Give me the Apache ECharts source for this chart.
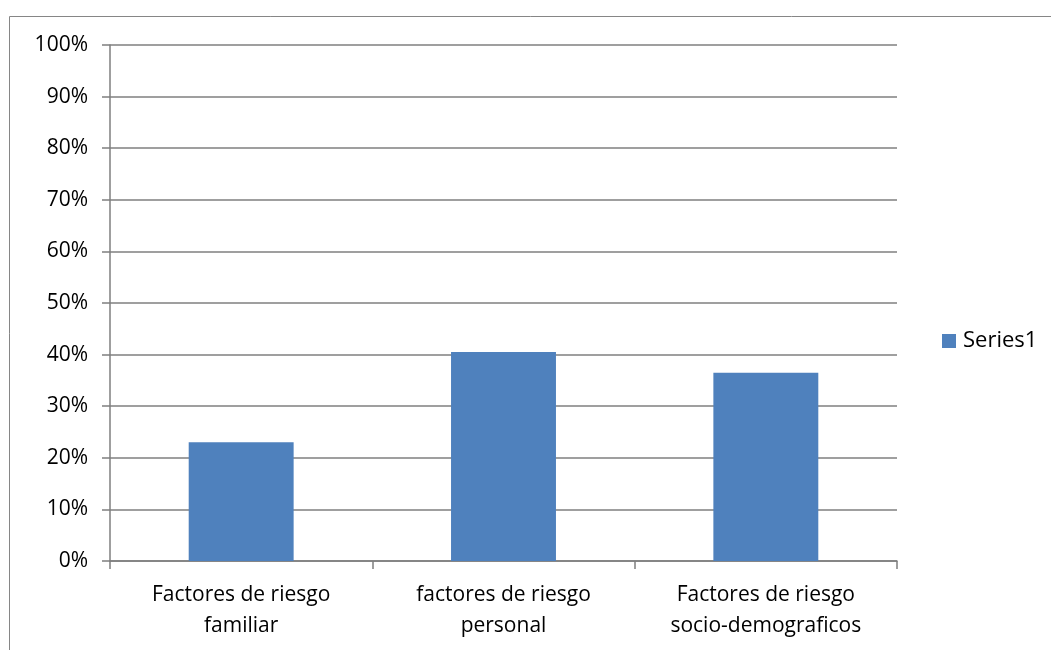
<!DOCTYPE html>
<html>
<head>
<meta charset="utf-8">
<script src="https://cdn.jsdelivr.net/npm/echarts@6/dist/echarts.min.js"></script>
<style>
    html, body { margin: 0; padding: 0; background: #fff; }
    #chart { width: 1051px; height: 650px; }
</style>
</head>
<body>
<div id="chart"></div>
<script>
var categories = ['Factores de riesgo\nfamiliar', 'factores de riesgo\npersonal', 'Factores de riesgo\nsocio-demograficos'];
var seriesName = 'Series1';
var seriesValues = [23.0, 40.5, 36.5];

var myChart = echarts.init(document.getElementById('chart'));
var fontName = 'Open Sans';
var option = {
    animation: false,
    backgroundColor: '#fff',
    textStyle: { fontFamily: fontName },
    graphic: [
        {
            type: 'rect',
            shape: { x: 9.5, y: 16.5, width: 1100, height: 700 },
            style: { fill: 'none', stroke: '#868686', lineWidth: 1 },
            silent: true
        }
    ],
    grid: { left: 110, right: 154, top: 45, bottom: 89 },
    legend: {
        data: [seriesName],
        orient: 'vertical',
        left: 937,
        top: 325,
        itemWidth: 14,
        itemHeight: 14,
        itemGap: 8,
        icon: 'rect',
        textStyle: { fontSize: 22, color: '#000', fontFamily: fontName, padding: [0, 0, 0, 2] }
    },
    xAxis: {
        type: 'category',
        data: categories,
        axisLine: { show: true, lineStyle: { color: '#7f7f7f', width: 1.5 } },
        axisTick: { show: true, length: 8, alignWithLabel: false, lineStyle: { color: '#7f7f7f', width: 1.5 } },
        axisLabel: { fontSize: 21, color: '#000', margin: 19, lineHeight: 31, interval: 0 }
    },
    yAxis: {
        type: 'value',
        min: 0,
        max: 100,
        interval: 10,
        axisLine: { show: true, lineStyle: { color: '#7f7f7f', width: 1.5 } },
        axisTick: { show: true, length: 8, lineStyle: { color: '#7f7f7f', width: 1.5 } },
        splitLine: { show: true, lineStyle: { color: '#7f7f7f', width: 1.5 } },
        axisLabel: { fontSize: 21, color: '#000', margin: 22, formatter: '{value}%' }
    },
    series: [
        {
            name: seriesName,
            type: 'bar',
            data: seriesValues,
            barWidth: '40%',
            itemStyle: { color: '#4F81BD' }
        }
    ]
};
myChart.setOption(option);
</script>
</body>
</html>
